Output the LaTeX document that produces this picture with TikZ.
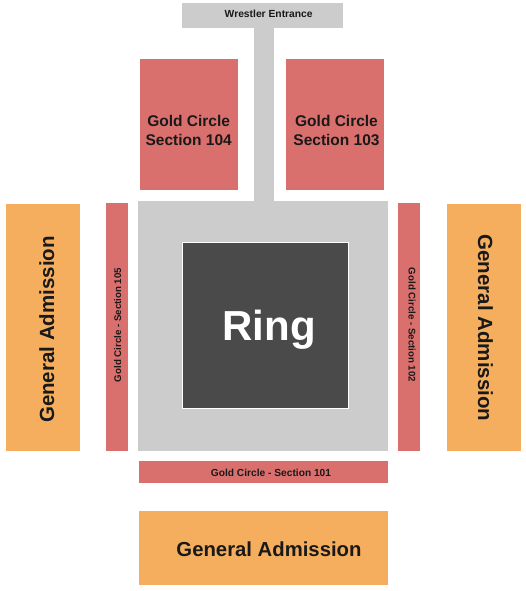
\documentclass[tikz,border=0pt]{standalone}
\usepackage{fontspec}
\setmainfont{Liberation Sans}
\definecolor{gcred}{RGB}{217,112,110}
\definecolor{gaorange}{RGB}{244,174,93}
\definecolor{floorgray}{RGB}{204,204,204}
\definecolor{ringgray}{RGB}{74,74,74}
\definecolor{txt}{RGB}{25,25,25}
\begin{document}
\begin{tikzpicture}[x=1pt,y=-1pt,
  area/.style={inner sep=0pt, outer sep=0pt, anchor=north west, draw=none},
  redbox/.style={area, fill=gcred},
  orangebox/.style={area, fill=gaorange},
  graybox/.style={area, fill=floorgray},
  lbl/.style={text=txt, inner sep=0pt, anchor=base, font=\bfseries},
]
\useasboundingbox (0,0) rectangle (525,591);
% entrance and corridor
\node[graybox, minimum width=161pt, minimum height=25pt] (entrance) at (182,3) {};
\node[graybox, minimum width=20pt, minimum height=175pt] (corridor) at (254,27) {};
% floor
\node[graybox, minimum width=250pt, minimum height=250pt] (floor) at (138,201) {};
% ring
\node[area, fill=ringgray, draw=white, line width=1pt, minimum width=166pt, minimum height=166pt] (ring) at (182,242) {};
% sections
\node[redbox, minimum width=98pt, minimum height=131pt] (s104) at (140,59) {};
\node[redbox, minimum width=98pt, minimum height=131pt] (s103) at (286,59) {};
\node[redbox, minimum width=22pt, minimum height=248pt] (s105) at (106,203) {};
\node[redbox, minimum width=22pt, minimum height=248pt] (s102) at (398,203) {};
\node[redbox, minimum width=249pt, minimum height=22pt] (s101) at (139,461) {};
% general admission
\node[orangebox, minimum width=74pt, minimum height=247pt] (gaL) at (6,204) {};
\node[orangebox, minimum width=74pt, minimum height=247pt] (gaR) at (447,204) {};
\node[orangebox, minimum width=249pt, minimum height=74pt] (gaB) at (139,511) {};
% labels
\node[lbl, font=\bfseries\fontsize{10.3}{12}\selectfont] (tEnt) at (268.7,17.3) {Wrestler Entrance};
\node[lbl, text=white, font=\bfseries\fontsize{42}{48}\selectfont] (tRing) at (269,340) {Ring};
\node[lbl, align=center, anchor=base, font=\bfseries\fontsize{15.5}{18.6}\selectfont] (t104) at (188.7,145.3) {Gold Circle\\Section 104};
\node[lbl, align=center, anchor=base, font=\bfseries\fontsize{15.5}{18.6}\selectfont] (t103) at (336.5,145.3) {Gold Circle\\Section 103};
\node[lbl, font=\bfseries\fontsize{10.2}{12}\selectfont] (t101) at (271,476) {Gold Circle - Section 101};
\node[lbl, rotate=90, font=\bfseries\fontsize{9.7}{12}\selectfont] (t105) at (121,325) {Gold Circle - Section 105};
\node[lbl, rotate=-90, font=\bfseries\fontsize{9.7}{12}\selectfont] (t102) at (408.5,325) {Gold Circle - Section 102};
\node[lbl, rotate=90, font=\bfseries\fontsize{20.5}{24}\selectfont] (tgaL) at (54,329.5) {General Admission};
\node[lbl, rotate=-90, font=\bfseries\fontsize{20.5}{24}\selectfont] (tgaR) at (478,328) {General Admission};
\node[lbl, font=\bfseries\fontsize{20.3}{24}\selectfont] (tgaB) at (269,556.7) {General Admission};
\end{tikzpicture}
\end{document}
